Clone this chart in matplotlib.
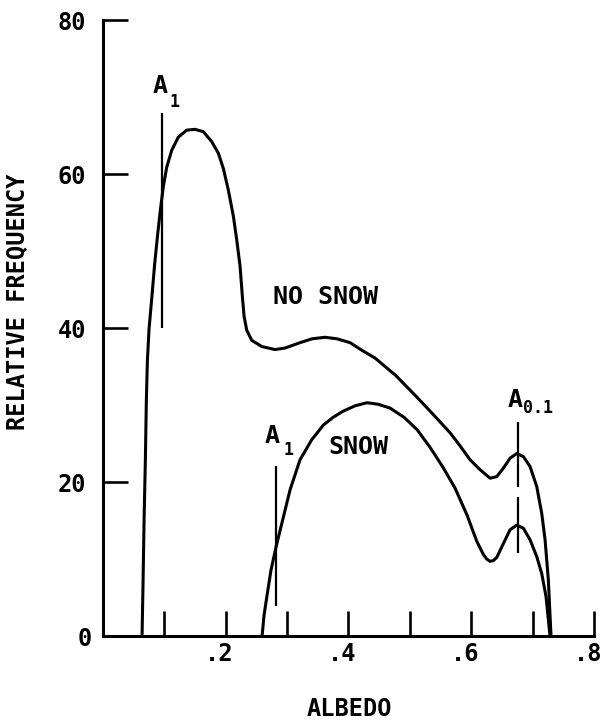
import numpy as np
import matplotlib
matplotlib.use("Agg")
import matplotlib.pyplot as plt
from matplotlib.transforms import ScaledTranslation

# albedo histograms (relative frequency, %)
albedo_nosnow = [0.0641, 0.0658, 0.0674, 0.0695, 0.0711, 0.0728, 0.0755, 0.0796, 0.0845, 0.0894,
                 0.0943, 0.0988, 0.1043, 0.1125, 0.1232, 0.1369, 0.1504, 0.1639, 0.1776, 0.1883,
                 0.1965, 0.2046, 0.2128, 0.2183, 0.2237, 0.2274, 0.2302, 0.2346, 0.2427, 0.2590,
                 0.2806, 0.2969, 0.3213, 0.3409, 0.3619, 0.3815, 0.4027, 0.4222, 0.4434, 0.4776,
                 0.5118, 0.5378, 0.5655, 0.5818, 0.5980, 0.6143, 0.6307, 0.6415, 0.6523, 0.6632,
                 0.6741, 0.6849, 0.6958, 0.7067, 0.7148, 0.7202, 0.7255, 0.7294, 0.7299]
freq_nosnow = [0.0, 7.3, 15.1, 22.9, 30.6, 35.8, 39.9, 43.6, 48.2, 52.1,
               55.6, 58.4, 60.9, 63.1, 64.8, 65.7, 65.8, 65.5, 64.2, 62.7,
               60.7, 57.9, 54.5, 51.4, 48.0, 44.1, 41.5, 39.7, 38.4, 37.6,
               37.2, 37.4, 38.1, 38.6, 38.8, 38.6, 38.1, 37.1, 36.1, 33.8,
               31.0, 28.8, 26.4, 24.7, 22.9, 21.6, 20.5, 20.7, 21.8, 23.1,
               23.7, 23.3, 22.0, 19.4, 15.9, 12.5, 7.3, 0.8, 0.0]

albedo_snow = [0.2595, 0.2627, 0.2676, 0.2741, 0.2823, 0.2937, 0.3051, 0.3213, 0.3404, 0.3593,
               0.3751, 0.3914, 0.4109, 0.4304, 0.4483, 0.4679, 0.4907, 0.5118, 0.5330, 0.5541,
               0.5737, 0.5932, 0.6090, 0.6197, 0.6251, 0.6306, 0.6360, 0.6415, 0.6523, 0.6632,
               0.6741, 0.6849, 0.6958, 0.7067, 0.7148, 0.7218, 0.7272, 0.7283]
freq_snow = [0.0, 2.7, 5.3, 8.6, 11.6, 15.3, 19.0, 22.9, 25.5, 27.4,
             28.4, 29.2, 29.9, 30.3, 30.1, 29.6, 28.4, 26.8, 24.5, 21.9,
             19.2, 15.7, 12.3, 10.6, 10.0, 9.7, 9.8, 10.2, 12.0, 13.8,
             14.4, 14.0, 12.5, 10.3, 8.1, 5.1, 0.8, 0.0]

# threshold markers: x position and vertical extent
a1_nosnow_x, a1_nosnow_y = 0.097, (40.0, 67.9)
a1_snow_x, a1_snow_y = 0.282, (3.9, 22.1)
a01_x = 0.676
a01_segments = [(19.4, 27.8), (10.8, 18.1)]

xticks = [0.1, 0.2, 0.3, 0.4, 0.5, 0.6, 0.7, 0.8]
xticklabels = ["", ".2", "", ".4", "", ".6", "", ".8"]
yticks = [0, 20, 40, 60, 80]
yticklabels = ["0", "20", "40", "60", "80"]

plt.rcParams["font.family"] = ["DejaVu Sans Mono", "DejaVu Sans"]
plt.rcParams["font.weight"] = "bold"
lw = 2.2

fig = plt.figure(figsize=(6.04, 7.23), dpi=100)
ax = fig.add_axes([0.170, 0.1203, 0.8136, 0.852])

line_kw = dict(color="black", lw=lw, solid_joinstyle="round", solid_capstyle="butt")
ax.plot(albedo_nosnow, freq_nosnow, **line_kw)
ax.plot(albedo_snow, freq_snow, **line_kw)

ax.vlines(a1_nosnow_x, *a1_nosnow_y, color="black", lw=1.6)
ax.vlines(a1_snow_x, *a1_snow_y, color="black", lw=1.6)
for y0, y1 in a01_segments:
    ax.vlines(a01_x, y0, y1, color="black", lw=1.6)

txt = dict(color="black", fontsize=18, ha="center", va="center")
sub = dict(color="black", fontsize=12, ha="center", va="center")
ax.text(0.094, 71.4, "A", **txt)
ax.text(0.117, 69.4, "1", **sub)
ax.text(0.276, 26.0, "A", **txt)
ax.text(0.303, 24.2, "1", **sub)
ax.text(0.672, 30.7, "A", **txt)
ax.text(0.709, 29.6, "0.1", **sub)
ax.text(0.363, 44.0, "NO SNOW", **txt)
ax.text(0.416, 24.6, "SNOW", **txt)

ax.set_xlim(0, 0.8)
ax.set_ylim(0, 80)
for side in ("top", "right"):
    ax.spines[side].set_visible(False)
for side in ("left", "bottom"):
    ax.spines[side].set_linewidth(lw)
    ax.spines[side].set_capstyle("projecting")

ax.set_xticks(xticks)
ax.set_xticklabels(xticklabels)
ax.set_yticks(yticks)
ax.set_yticklabels(yticklabels)
ax.tick_params(direction="in", length=18, width=1.9, labelsize=17, color="black")
ax.tick_params(axis="x", pad=4)
ax.tick_params(axis="y", pad=12)
for lab in ax.get_xticklabels():
    lab.set_transform(lab.get_transform() + ScaledTranslation(-6 / 100, 0, fig.dpi_scale_trans))
ax.get_yticklabels()[0].set_transform(
    ax.get_yticklabels()[0].get_transform() + ScaledTranslation(6 / 100, 0, fig.dpi_scale_trans))

fig.text(0.030, 0.582, "RELATIVE FREQUENCY", rotation=90, ha="center", va="center", fontsize=17)
fig.text(0.578, 0.019, "ALBEDO", ha="center", va="center", fontsize=17)

fig.savefig("out.png", dpi=100, facecolor="white")
